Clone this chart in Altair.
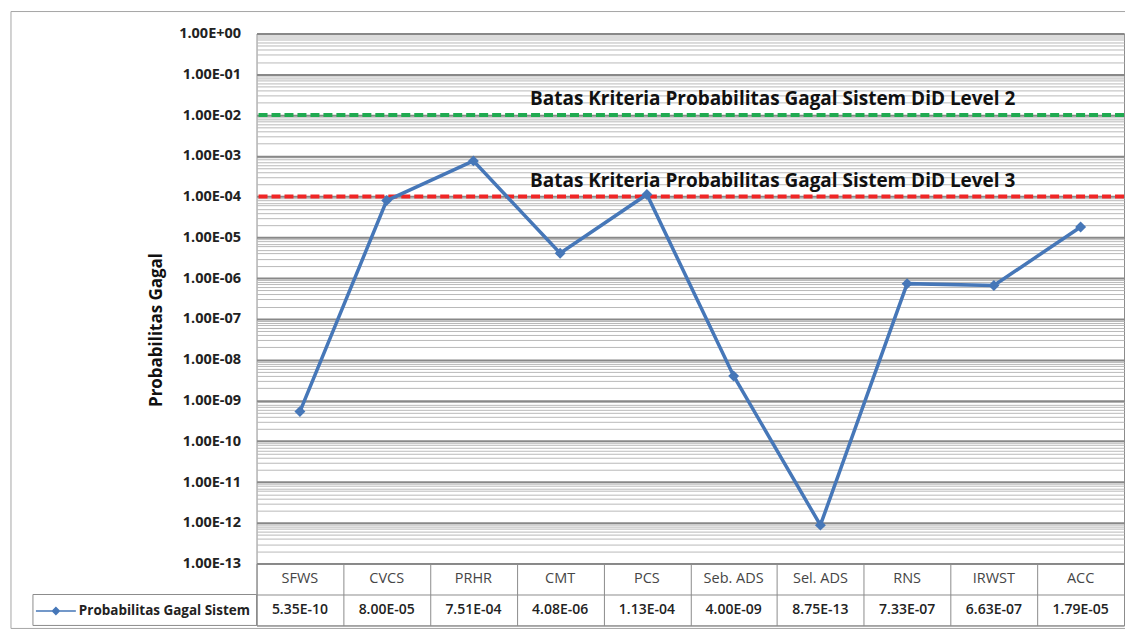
import altair as alt
import pandas as pd

# Systems and their failure probabilities
systems = ["SFWS", "CVCS", "PRHR", "CMT", "PCS", "Seb. ADS", "Sel. ADS", "RNS", "IRWST", "ACC"]
fail_prob = [5.35e-10, 8.00e-05, 7.51e-04, 4.08e-06, 1.13e-04, 4.00e-09, 8.75e-13, 7.33e-07, 6.63e-07, 1.79e-05]
series_name = "Probabilitas Gagal Sistem"

# Defence-in-depth acceptance limits
criteria_labels = [
    "Batas Kriteria Probabilitas Gagal Sistem DiD Level 2",
    "Batas Kriteria Probabilitas Gagal Sistem DiD Level 3",
]
criteria_values = [1e-2, 1e-4]
criteria_colors = ["#1faa50", "#f02525"]

# Decades shown on the log axis
decades = list(range(-13, 1))

W, H, ROW = 869, 531, 31
LINE_BLUE = "#4677b8"
FONT = "Open Sans"

df = pd.DataFrame({"system": systems, "p": fail_prob, "series": [series_name] * len(systems)})
crit = pd.DataFrame({"label": criteria_labels, "limit": criteria_values, "color": criteria_colors})
one = pd.DataFrame({"k": [0]})

major = [10.0 ** e for e in decades]
minor = [m * 10.0 ** e for e in decades[:-1] for m in range(2, 10)]
grid_values = sorted(major + minor)

log10 = "(log(datum.value)/LN10)"
is_major = f"abs({log10} - round({log10})) < 0.001"
exp = f"round({log10})"
label_expr = (
    f"{is_major} ? '1.00E' + ({exp} >= 0 ? '+' : '-') + "
    f"(abs({exp}) < 10 ? '0' : '') + abs({exp}) : ''"
)

y_scale = alt.Scale(type="log", domain=[1e-13, 1], nice=False)
y_axis = alt.Axis(
    values=grid_values,
    labelExpr=label_expr,
    labelOverlap=False,
    ticks=False,
    domain=False,
    grid=True,
    gridColor={"condition": {"test": is_major, "value": "#888888"}, "value": "#b9b9b9"},
    gridWidth={"condition": {"test": is_major, "value": 2}, "value": 1},
    labelFont=FONT,
    labelFontWeight="bold",
    labelFontSize=14.5,
    labelColor="#222222",
    labelPadding=16,
    title="Probabilitas Gagal",
    titleFont=FONT,
    titleFontSize=17,
    titleFontWeight="bold",
    titleColor="#111111",
    titlePadding=13,
    titleY=(H + 2 * ROW) / 2,
)

x_enc = alt.X("system:N", sort=systems, axis=None)

legend_symbol = "M-1,0H1M-0.17,0L0,-0.17L0.17,0L0,0.17Z"

line = alt.Chart(df).mark_line(strokeWidth=3.5).encode(
    x=x_enc,
    y=alt.Y("p:Q", scale=y_scale, axis=y_axis),
    color=alt.Color(
        "series:N",
        scale=alt.Scale(range=[LINE_BLUE]),
        legend=alt.Legend(
            orient="none",
            legendX=-222,
            legendY=H + ROW + ROW / 2 - 20,
            title=None,
            symbolType=legend_symbol,
            symbolSize=1600,
            symbolStrokeWidth=1.5,
            symbolStrokeColor=LINE_BLUE,
            symbolFillColor=LINE_BLUE,
            labelFont=FONT,
            labelFontSize=13.5,
            labelFontWeight="bold",
            labelColor="#222222",
            labelOffset=2,
            labelLimit=300,
        ),
    ),
)

points = alt.Chart(df).mark_point(
    shape="diamond", filled=True, size=120, color=LINE_BLUE, opacity=1
).encode(x=x_enc, y=alt.Y("p:Q", scale=y_scale))

limit_rules = alt.Chart(crit).mark_rule(strokeDash=[9, 4], strokeWidth=4).encode(
    y=alt.Y("limit:Q", scale=y_scale),
    stroke=alt.Stroke("color:N", scale=None),
)

limit_text = alt.Chart(crit).mark_text(
    align="left", baseline="middle", dy=-16, font=FONT, fontSize=19, fontWeight="bold", color="#111111"
).encode(
    x=alt.value(274),
    y=alt.Y("limit:Q", scale=y_scale),
    text="label:N",
)

# Outer frame and the legend cell of the data table
frame_color = "#a6a6a6"
frame_top = alt.Chart(one).mark_rule(color=frame_color, strokeWidth=1).encode(
    x=alt.value(-246), x2=alt.value(W + 1), y=alt.value(-22)
)
frame_left = alt.Chart(one).mark_rule(color=frame_color, strokeWidth=1).encode(
    x=alt.value(-246), y=alt.value(-22), y2=alt.value(H + 65)
)
frame_bottom = alt.Chart(one).mark_rule(color=frame_color, strokeWidth=1).encode(
    x=alt.value(-246), x2=alt.value(W + 1), y=alt.value(H + 65)
)
legend_cell = alt.Chart(one).mark_rect(fillOpacity=0, stroke="#8c8c8c", strokeWidth=1).encode(
    x=alt.value(-224), x2=alt.value(0), y=alt.value(H + ROW), y2=alt.value(H + 2 * ROW)
)

plot = alt.layer(
    limit_rules, line, points, limit_text, frame_top, frame_left, frame_bottom, legend_cell
).properties(width=W, height=H)

# Data table: category row and value row
tx = alt.X(
    "system:N",
    sort=systems,
    scale=alt.Scale(type="band", paddingInner=0, paddingOuter=0),
    axis=alt.Axis(labels=False, ticks=False, domain=False, grid=True, tickBand="extent",
                  gridColor="#8c8c8c", gridWidth=1, title=None),
)
row_scale = alt.Scale(type="band", domain=["cat", "val"], paddingInner=0, paddingOuter=0)
row_axis = alt.Axis(labels=False, ticks=False, domain=False, grid=True, tickBand="extent",
                    gridColor="#8c8c8c", gridWidth=1, title=None)

header = alt.Chart(df).mark_text(font=FONT, fontSize=14.5, color="#454545").encode(
    x=tx,
    y=alt.YDatum("cat", type="nominal", scale=row_scale, axis=row_axis),
    text="system:N",
)

val_expr = (
    "format(datum.p / pow(10, floor(log(datum.p)/LN10)), '.2f') + 'E' + "
    "(floor(log(datum.p)/LN10) < 0 ? '-' : '+') + "
    "(abs(floor(log(datum.p)/LN10)) < 10 ? '0' : '') + abs(floor(log(datum.p)/LN10))"
)
values_row = alt.Chart(df).transform_calculate(txt=val_expr).mark_text(
    font=FONT, fontSize=14, fontWeight=600, color="#222222"
).encode(
    x=tx,
    y=alt.YDatum("val", type="nominal", scale=row_scale),
    text="txt:N",
)

table = alt.layer(header, values_row).properties(width=W, height=2 * ROW)

chart = alt.vconcat(plot, table, spacing=0, bounds="flush").resolve_scale(
    color="independent", x="independent"
).properties(
    padding={"left": 10, "top": 10, "right": 0, "bottom": 0},
    background="white",
).configure_view(stroke="#8c8c8c", strokeWidth=1)

chart.save("out.html", embed_options={"renderer": "svg", "actions": False})
